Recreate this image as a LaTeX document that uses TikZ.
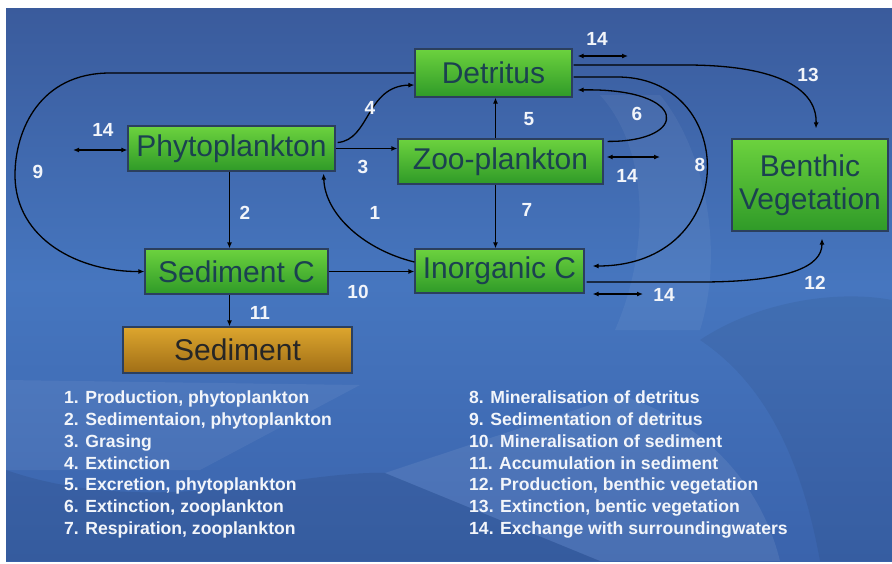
\documentclass[tikz,border=0pt]{standalone}
\usepackage{fontspec}
\setmainfont{Liberation Sans}
\usetikzlibrary{calc,arrows.meta}
\definecolor{bgtop}{HTML}{3A5B9C}
\definecolor{bgmid}{HTML}{4676BF}
\definecolor{bgbot}{HTML}{3A63AC}
\definecolor{boxtop}{HTML}{6CD23E}
\definecolor{boxbot}{HTML}{2F9A28}
\definecolor{boxline}{HTML}{2B3F5E}
\definecolor{boxtext}{HTML}{1B4150}
\definecolor{sedtop}{HTML}{DDA62E}
\definecolor{sedbot}{HTML}{A06E16}
\definecolor{numtext}{HTML}{F2F5FA}

\begin{document}
\begin{tikzpicture}[x=1pt,y=-1pt,
  pool/.style={draw=boxline, line width=1.2pt, top color=boxtop, bottom color=boxbot,
    text=boxtext, font=\fontsize{30}{33}\selectfont, inner sep=0pt, align=center},
  store/.style={pool, top color=sedtop, bottom color=sedbot, text=black!85},
  flow/.style={black, line width=1.3pt, -{Latex[length=6pt,width=5pt]}},
  swap/.style={flow, {Latex[length=6pt,width=5pt]}-{Latex[length=6pt,width=5pt]}},
  num/.style={text=numtext, font=\bfseries\fontsize{19}{20}\selectfont, inner sep=0pt},
  legend/.style={text=numtext, font=\bfseries\fontsize{17.6}{21.7}\selectfont,
    align=left, inner sep=0pt, anchor=north west}]
\useasboundingbox (0,0) rectangle (892,563);
% background
\shade[top color=bgtop, bottom color=bgbot, middle color=bgmid] (6,8) rectangle (892,561);
\fill[white,opacity=0.05] (600,95) .. controls (650,150) and (650,250) .. (615,330)
  -- (700,330) .. controls (725,250) and (705,150) .. (660,95) -- cycle;
\fill[white,opacity=0.06] (6,380) -- (360,385) -- (200,470) -- (6,470) -- cycle;
\fill[white,opacity=0.08] (385,473) -- (620,395) .. controls (700,420) and (760,480)
  .. (780,561) -- (600,561) -- cycle;
\fill[black,opacity=0.08] (6,470) .. controls (150,520) and (300,470) .. (385,473)
  -- (600,561) -- (6,561) -- cycle;
\fill[black,opacity=0.06] (700,340) .. controls (760,300) and (840,290) .. (892,300)
  -- (892,561) -- (820,561) .. controls (800,450) and (760,380) .. (700,340) -- cycle;

% pools
\node[pool, minimum width=157pt, minimum height=48pt] (detr) at (493.5,73) {Detritus};
\node[pool, minimum width=207pt, minimum height=45pt] (phyto) at (231.5,148.5) {Phytoplankton};
\node[pool, minimum width=205pt, minimum height=45pt] (zoo) at (500.5,161.5) {Zoo-plankton};
\node[pool, minimum width=183pt, minimum height=45pt] (sedc) at (236.5,271.5) {Sediment C};
\node[pool, minimum width=169pt, minimum height=44pt] (inorg) at (499.5,271) {Inorganic C};
\node[pool, minimum width=156pt, minimum height=92pt] (benth) at (810,185) {Benthic\\Vegetation};
\node[store, minimum width=229pt, minimum height=46pt] (sed) at (237.5,350) {Sediment};

% free ends of the exchange arrows
\coordinate (exdetr) at (628,56);
\coordinate (exzoo) at (660,157);
\coordinate (exinorg) at (643,294);
\coordinate (exphyto) at (73,150);

% fluxes
\draw[flow] ($(inorg.west)+(0,-9)$) .. controls (365,250) and (325,215) .. ($(phyto.south east)+(-12,2)$);
\draw[flow] ($(phyto.south)+(-2,0)$) -- ($(phyto.south |- sedc.north)+(-2,0)$);
\draw[flow] (phyto.east) -- (phyto.east -| zoo.west);
\draw[flow] ($(phyto.east)+(2,-6)$) .. controls (370,140) and (366,86) .. ($(detr.west)+(0,12)$);
\draw[flow] ($(zoo.north)+(-5,0)$) -- ($(zoo.north |- detr.south)+(-5,0)$);
\draw[flow] ($(zoo.north east)+(4,3)$) .. controls (690,142) and (690,88) .. ($(detr.east)+(5,17)$);
\draw[flow] ($(zoo.south)+(-5,0)$) -- ($(zoo.south |- inorg.north)+(-5,0)$);
\draw[flow] ($(detr.east)+(1,4)$) -- (620,77) .. controls (740,80) and (740,266) .. ($(inorg.east)+(8,-5)$);
\draw[flow] (detr.west) -- (110,73) .. controls (40,73) and (15,130) .. (15,175)
  .. controls (15,240) and (80,272) .. (sedc.west);
\draw[flow] (sedc.east) -- (sedc.east -| inorg.west);
\draw[flow] ($(sedc.south)+(-7,0)$) -- ($(sedc.south |- sed.north)+(-7,0)$);
\draw[flow] ($(inorg.east)+(2,11)$) -- (700,282) .. controls (790,282) and (822,266) .. ($(benth.south)+(12,7)$);
\draw[flow] ($(detr.east)+(1,-8)$) -- (690,65) .. controls (790,66) and (817,95) .. ($(benth.north)+(6,-10)$);
\draw[swap] ($(detr.east)+(5,-17)$) -- (exdetr);
\draw[swap] ($(zoo.east)+(3,-4.5)$) -- (exzoo);
\draw[swap] ($(inorg.east)+(8,23)$) -- (exinorg);
\draw[swap] (exphyto) -- ($(phyto.west)+(0,1.5)$);

% flux numbers
\node[num] (n1) at (375,213) {1};
\node[num] (n2) at (245,213) {2};
\node[num] (n3) at (363,167) {3};
\node[num] (n4) at (370,108) {4};
\node[num] (n5) at (529,119) {5};
\node[num] (n6) at (637,114) {6};
\node[num] (n7) at (527,210) {7};
\node[num] (n8) at (700,165) {8};
\node[num] (n9) at (38,172) {9};
\node[num] (n10) at (358,292) {10};
\node[num] (n11) at (260,313) {11};
\node[num] (n12) at (815,283) {12};
\node[num] (n13) at (808,75) {13};
\node[num] (n14a) at (597,39) {14};
\node[num] (n14b) at (627,176) {14};
\node[num] (n14c) at (664,295) {14};
\node[num] (n14d) at (103,130) {14};

% legend
\node[legend] (legl) at (64,391) {1. Production, phytoplankton\\2. Sedimentaion, phytoplankton\\3. Grasing\\4. Extinction\\5. Excretion, phytoplankton\\6. Extinction, zooplankton\\7. Respiration, zooplankton};
\node[legend] (legr) at (469,391) {8. Mineralisation of detritus\\9. Sedimentation of detritus\\10. Mineralisation of sediment\\11. Accumulation in sediment\\12. Production, benthic vegetation\\13. Extinction, bentic vegetation\\14. Exchange with surroundingwaters};
\end{tikzpicture}
\end{document}
